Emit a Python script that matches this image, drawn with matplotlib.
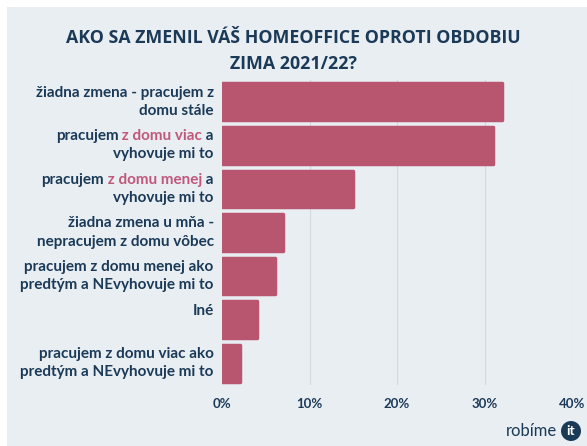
import matplotlib.pyplot as plt
from matplotlib.offsetbox import TextArea, HPacker, VPacker, AnnotationBbox
from matplotlib.patches import Rectangle, Circle

# data, *...* = highlighted part of label
labels = [
    "žiadna zmena - pracujem z\ndomu stále",
    "pracujem* z domu viac* a\nvyhovuje mi to",
    "pracujem* z domu menej* a\nvyhovuje mi to",
    "žiadna zmena u mňa -\nnepracujem z domu vôbec",
    "pracujem z domu menej ako\npredtým a NEvyhovuje mi to",
    "Iné\n ",
    "pracujem z domu viac ako\npredtým a NEvyhovuje mi to",
]
values = [32, 31, 15, 7, 6, 4, 2]
xticks = [0, 10, 20, 30, 40]
xticklabels = ["0%", "10%", "20%", "30%", "40%"]

bg = "#e9eef3"
navy = "#1b3a57"
pink = "#c0587a"
bar_color = "#b9566f"

plt.rcParams['font.family'] = ['Lato', 'DejaVu Sans']

fig = plt.figure(figsize=(5.87, 4.46), dpi=100)
fig.patch.set_facecolor("white")
fig.patches.append(Rectangle((7 / 587, 0), 1, 1 - 7 / 446, transform=fig.transFigure,
                             facecolor=bg, edgecolor="none", zorder=-10))

ax = fig.add_axes([222 / 587, 1 - 385 / 446, 350 / 587, 305 / 446])
ax.set_facecolor("none")

ypos = list(range(len(values)))
ax.barh(ypos, values, height=0.84, color=bar_color, edgecolor=bar_color,
        linewidth=2.5, joinstyle="round", zorder=3)
ax.set_xlim(0, 40)
ax.set_ylim(len(values) - 0.5, -0.5)
ax.set_xticks(xticks)
ax.set_xticklabels(xticklabels, fontsize=9.5, fontweight="bold", color=navy)
ax.set_yticks([])
ax.tick_params(axis="x", length=0, pad=9)
for s in ax.spines.values():
    s.set_visible(False)
for t in xticks[1:]:
    ax.axvline(t, color="#d3d9df", linewidth=0.8, zorder=1)

# multi-colour labels
for i, lab in enumerate(labels):
    rows = []
    for line in lab.split("\n"):
        parts = line.split("*")
        segs = []
        for k, p in enumerate(parts):
            if p == "":
                continue
            segs.append(TextArea(p, textprops=dict(color=pink if k % 2 else navy,
                                                  fontsize=11, fontweight="bold")))
        rows.append(HPacker(children=segs, pad=0, sep=0))
    box = VPacker(children=rows, align="right", pad=0, sep=3)
    ab = AnnotationBbox(box, (0, i), xybox=(-6, 0), xycoords="data",
                        boxcoords="offset points", box_alignment=(1, 0.5),
                        frameon=False, annotation_clip=False)
    ax.add_artist(ab)

fig.text(0.5, 1 - 38 / 446, "AKO SA ZMENIL VÁŠ HOMEOFFICE OPROTI OBDOBIU",
         ha="center", va="center", fontsize=12.8, fontweight="bold", color=navy,
         family=["Open Sans", "DejaVu Sans"])
fig.text(0.5, 1 - 64 / 446, "ZIMA 2021/22?",
         ha="center", va="center", fontsize=12.8, fontweight="bold", color=navy,
         family=["Open Sans", "DejaVu Sans"])

# logo
fig.text(557 / 587, 1 - 431 / 446, "robíme", ha="right", va="center",
         fontsize=12, color=navy)
fig.patches.append(Circle((571, 446 - 431), 10, transform=None,
                          facecolor=navy, edgecolor="none"))
fig.text(571 / 587, 1 - 431 / 446, "it", ha="center", va="center",
         fontsize=10, fontweight="bold", color="white")

fig.savefig("out.png", dpi=100)
